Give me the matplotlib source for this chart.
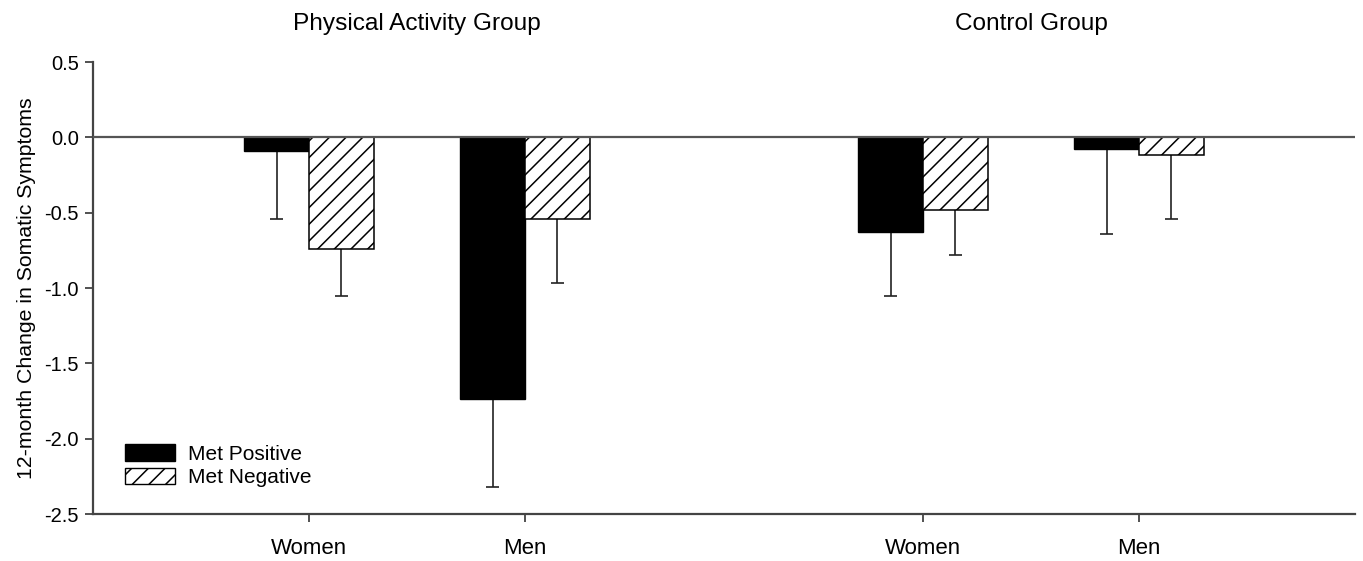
import numpy as np
import matplotlib
matplotlib.use("Agg")
import matplotlib.pyplot as plt
from matplotlib.patches import Patch

plt.rcParams['font.family'] = ['Liberation Sans', 'DejaVu Sans']
plt.rcParams['hatch.linewidth'] = 1.1

groups = ['Physical Activity Group', 'Control Group']
sexes = ['Women', 'Men', 'Women', 'Men']

# mean 12-month change and (downward) error, per sex within group
met_pos = [-0.09, -1.74, -0.63, -0.08]
met_pos_err = [0.45, 0.58, 0.42, 0.56]
met_neg = [-0.74, -0.54, -0.48, -0.12]
met_neg_err = [0.31, 0.43, 0.30, 0.42]

fig = plt.figure(figsize=(13.63, 5.61), dpi=100)
ax = fig.add_axes([93 / 1363, 47 / 561, 1262 / 1363, 452 / 561])

pos = np.array([1.0, 2.0, 3.843, 4.843])
w = 0.30
edge = '#222222'

ax.bar(pos - w / 2, met_pos, w, color='black', edgecolor='black', linewidth=1, zorder=2)
ax.bar(pos + w / 2, met_neg, w, color='white', edgecolor='black', hatch='//', linewidth=1.1, zorder=2)

# one-sided error bars
pos_low = np.array(met_pos) - np.array(met_pos_err)
neg_low = np.array(met_neg) - np.array(met_neg_err)
cap = 0.03
ax.vlines(pos - w / 2, pos_low, met_pos, color=edge, lw=1.2, zorder=1)
ax.hlines(pos_low, pos - w / 2 - cap, pos - w / 2 + cap, color=edge, lw=1.2, zorder=1)
ax.vlines(pos + w / 2, neg_low, met_neg, color=edge, lw=1.2, zorder=1)
ax.hlines(neg_low, pos + w / 2 - cap, pos + w / 2 + cap, color=edge, lw=1.2, zorder=1)

ax.axhline(0, color='#555555', lw=1.6, zorder=3)

ax.set_xlim(0, 5.843)
ax.set_ylim(-2.5, 0.5)
ax.set_yticks(np.arange(-2.5, 0.51, 0.5))
ax.set_yticklabels([f'{v:.1f}' for v in np.arange(-2.5, 0.51, 0.5)])
ax.set_xticks(pos)
ax.set_xticklabels(sexes)
ax.tick_params(axis='y', labelsize=14.5, length=6, width=1.2, color='#333333', pad=4)
ax.tick_params(axis='x', labelsize=16, length=6, width=1.2, color='#333333', pad=11)

for s in ['top', 'right']:
    ax.spines[s].set_visible(False)
for s in ['left', 'bottom']:
    ax.spines[s].set_color('#444444')
    ax.spines[s].set_linewidth(1.6)

ax.set_ylabel('12-month Change in Somatic Symptoms', fontsize=15.3, labelpad=6)

trans = ax.get_xaxis_transform()
ax.text((pos[0] + pos[1]) / 2, 1.0708, groups[0], transform=trans, ha='center', va='baseline', fontsize=17.6)
ax.text((pos[2] + pos[3]) / 2, 1.0708, groups[1], transform=trans, ha='center', va='baseline', fontsize=17.6)

handles = [Patch(facecolor='black', edgecolor='black', label='Met Positive'),
           Patch(facecolor='white', edgecolor='black', hatch='//', label='Met Negative')]
ax.legend(handles=handles, loc='upper left', bbox_to_anchor=(125 / 1363, 1 - 444 / 561),
          bbox_transform=fig.transFigure, frameon=False, fontsize=15, handlelength=2.4,
          handleheight=0.85, handletextpad=0.6, labelspacing=0.2, borderpad=0, borderaxespad=0)

fig.savefig('out.png', dpi=100)
